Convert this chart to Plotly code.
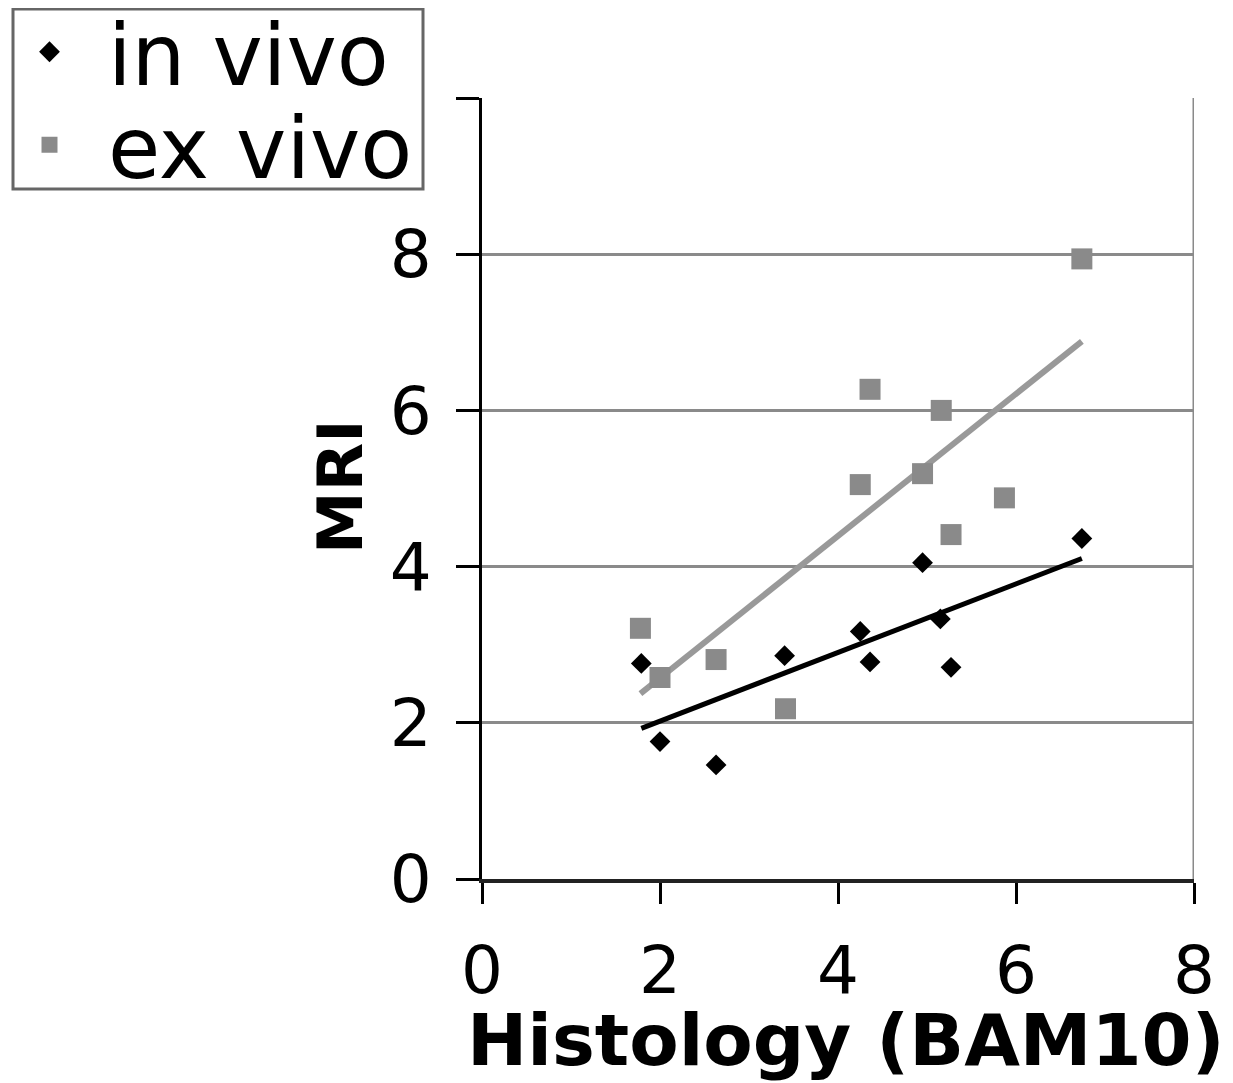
import numpy as np
import plotly.graph_objects as go

# Data
in_vivo_x = [1.79, 2.00, 2.63, 3.40, 4.25, 4.36, 4.95, 5.15, 5.27, 6.74]
in_vivo_y = [2.76, 1.76, 1.46, 2.86, 3.17, 2.78, 4.05, 3.33, 2.71, 4.36]

ex_vivo_x = [1.78, 2.00, 2.63, 3.41, 4.25, 4.36, 4.95, 5.16, 5.27, 5.87, 6.74]
ex_vivo_y = [3.21, 2.58, 2.81, 2.18, 5.05, 6.27, 5.19, 6.00, 4.41, 4.88, 7.94]

x_ticks = [0, 2, 4, 6, 8]
y_ticks = [0, 2, 4, 6, 8, 10]
y_ticktext = ["0", "2", "4", "6", "8", ""]

FONT = "DejaVu Sans"
GRAY = "#8a8a8a"

# The page body has an 8px margin; the figure is sized to fit the window.
OFF = 8
W, H = 1233 - OFF, 1083 - OFF
L, R, T, B = 482 - OFF, 39, 98 - OFF, 204
PW, PH = W - L - R, H - T - B


def px_x(X):
    return (X - OFF - L) / PW


def px_y(Y):
    return 1 - (Y - OFF - T) / PH


def fit(xs, ys):
    xs = np.array(xs)
    ys = np.array(ys)
    m, b = np.polyfit(xs, ys, 1)
    xx = np.array([xs.min(), xs.max()])
    return xx, m * xx + b


fig = go.Figure()

# Trendlines
fx, fy = fit(ex_vivo_x, ex_vivo_y)
fig.add_trace(go.Scatter(x=fx, y=fy, mode="lines", line=dict(color="#999999", width=6),
                         showlegend=False, hoverinfo="skip"))
fx, fy = fit(in_vivo_x, in_vivo_y)
fig.add_trace(go.Scatter(x=fx, y=fy, mode="lines", line=dict(color="black", width=5),
                         showlegend=False, hoverinfo="skip"))

fig.add_trace(go.Scatter(x=ex_vivo_x, y=ex_vivo_y, mode="markers", name="ex vivo",
                         legend="legend2",
                         marker=dict(symbol="square", size=21, color=GRAY)))
fig.add_trace(go.Scatter(x=in_vivo_x, y=in_vivo_y, mode="markers", name="in vivo",
                         legend="legend",
                         marker=dict(symbol="diamond", size=16, color="black")))

# right border of plot area
fig.add_shape(type="line", x0=8, x1=8, y0=0, y1=10, xref="x", yref="y",
              line=dict(color=GRAY, width=3), layer="below")

# legend box
fig.add_shape(type="rect", xref="paper", yref="paper",
              x0=px_x(13), x1=px_x(423), y0=px_y(189), y1=px_y(9),
              line=dict(color="#666666", width=3), fillcolor="rgba(0,0,0,0)")

leg_common = dict(
    xref="paper", yref="paper", xanchor="left", yanchor="top",
    font=dict(size=85, family=FONT, color="black"),
    borderwidth=0, bgcolor="rgba(0,0,0,0)", itemwidth=107,
)

fig.update_layout(
    width=W, height=H,
    margin=dict(l=L, r=R, t=T, b=B, autoexpand=False),
    paper_bgcolor="white", plot_bgcolor="white",
    font=dict(family=FONT, color="black"),
    showlegend=True,
    legend=dict(x=px_x(-9), y=px_y(-10), **leg_common),
    legend2=dict(x=px_x(-9), y=px_y(83), **leg_common),
    xaxis=dict(
        range=[0, 8], tickvals=x_ticks, ticks="outside", ticklen=21, tickwidth=3,
        tickcolor="black", showgrid=False, zeroline=False, showline=True,
        linecolor="#222222", linewidth=4, tickfont=dict(size=66, family=FONT),
        ticklabelstandoff=10,
    ),
    yaxis=dict(
        range=[0, 10], tickvals=y_ticks, ticktext=y_ticktext, ticks="outside",
        ticklen=23, tickwidth=3, tickcolor="black", showgrid=True, gridcolor=GRAY,
        gridwidth=3, zeroline=False, showline=True, linecolor="black", linewidth=3,
        tickfont=dict(size=66, family=FONT), ticklabelstandoff=11,
    ),
)

fig.add_annotation(text="<b>Histology (BAM10)</b>", x=px_x(846), y=px_y(1040),
                   xref="paper", yref="paper", showarrow=False,
                   font=dict(size=72, family=FONT), xanchor="center", yanchor="middle")
fig.add_annotation(text="<b>MRI</b>", x=px_x(340), y=px_y(487),
                   xref="paper", yref="paper", showarrow=False, textangle=-90,
                   font=dict(size=63, family=FONT), xanchor="center", yanchor="middle")

fig.write_html("out.html")
